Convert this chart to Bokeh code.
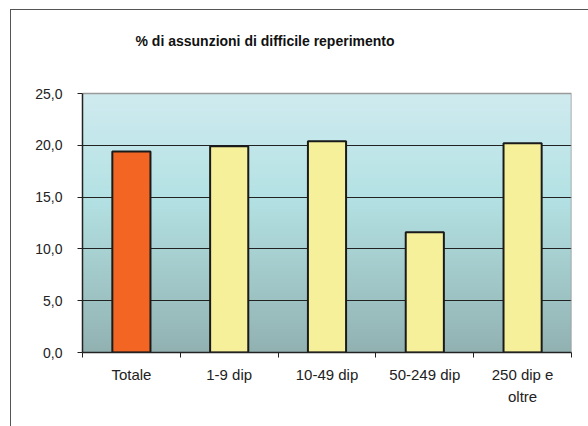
import numpy as np
from bokeh.plotting import figure
from bokeh.models import Range1d, FixedTicker, Label
from bokeh.embed import file_html
from bokeh.resources import INLINE

title = "% di assunzioni di difficile reperimento"
categories = ["Totale", "1-9 dip", "10-49 dip", "50-249 dip", "250 dip e\noltre"]
values = [19.4, 19.9, 20.4, 11.6, 20.2]
bar_colors = ["#f26522", "#f6f09b", "#f6f09b", "#f6f09b", "#f6f09b"]
y_ticks = [0, 5, 10, 15, 20, 25]
y_tick_labels = ["0,0", "5,0", "10,0", "15,0", "20,0", "25,0"]

n = len(categories)
y_max = y_ticks[-1]
centers = [i + 0.5 for i in range(n)]

# frame is extended upward so that the title can be drawn inside it
frame_h = 417 - 10 - 75
plot_h = 259
p = figure(width=578, height=417, output_backend="svg", toolbar_location=None,
           x_range=Range1d(0, n), y_range=Range1d(0, y_max * frame_h / plot_h),
           min_border_left=71, min_border_right=18, min_border_top=10, min_border_bottom=75)
p.margin = (9, 0, 0, 10)
p.styles = {"border-left": "1px solid #555555", "border-top": "1px solid #555555"}

# background gradient of the plot area
H = 256
t = np.linspace(0, 1, H)  # 0 bottom -> 1 top
stops_t = [0.0, 0.6, 1.0]
stops_c = np.array([[146, 178, 178], [180, 226, 228], [208, 235, 240]])
r = np.interp(t, stops_t, stops_c[:, 0])
g = np.interp(t, stops_t, stops_c[:, 1])
b = np.interp(t, stops_t, stops_c[:, 2])
img = np.empty((H, 1), dtype=np.uint32)
view = img.view(dtype=np.uint8).reshape((H, 1, 4))
view[:, 0, 0] = r.astype(np.uint8)
view[:, 0, 1] = g.astype(np.uint8)
view[:, 0, 2] = b.astype(np.uint8)
view[:, 0, 3] = 255
p.image_rgba(image=[img], x=0, y=0, dw=n, dh=y_max, level="image")

# plot area border (top and right)
p.line(x=[0, n, n], y=[y_max, y_max, 0], line_color="#9a9a9a", line_width=1.5)

p.vbar(x=centers, top=values, width=0.39, bottom=0, fill_color=bar_colors,
       line_color="#1a1a1a", line_width=2)

p.add_layout(Label(text=title, x=53, y=312, x_units="screen", y_units="screen",
                   text_font="Liberation Sans", text_font_size="14px",
                   text_font_style="bold", text_color="#111111",
                   text_baseline="middle", text_align="left"))

p.outline_line_color = None
p.background_fill_color = None
p.border_fill_color = "white"

p.xgrid.visible = False
p.ygrid.ticker = FixedTicker(ticks=y_ticks[1:-1])
p.ygrid.grid_line_color = "#222222"
p.ygrid.grid_line_width = 1.2
p.ygrid.level = "image"

# y axis
p.yaxis.bounds = (0, y_max)
p.yaxis.ticker = FixedTicker(ticks=y_ticks)
p.yaxis.major_label_overrides = {k: v for k, v in zip(y_ticks, y_tick_labels)}
p.yaxis.major_tick_out = 5
p.yaxis.major_tick_in = 0
p.yaxis.minor_tick_line_color = None
p.yaxis.axis_line_color = "#222222"
p.yaxis.axis_line_width = 1.5
p.yaxis.major_tick_line_color = "#222222"
p.yaxis.major_label_text_font = "Liberation Sans"
p.yaxis.major_label_text_font_size = "14px"
p.yaxis.major_label_text_color = "#222222"
p.yaxis.major_label_standoff = 15

# x axis
p.xaxis.ticker = FixedTicker(ticks=centers, minor_ticks=list(range(n + 1)))
p.xaxis.major_label_overrides = {c: lab for c, lab in zip(centers, categories)}
p.xaxis.major_tick_out = 0
p.xaxis.major_tick_in = 0
p.xaxis.minor_tick_out = 5
p.xaxis.minor_tick_in = 0
p.xaxis.minor_tick_line_color = "#222222"
p.xaxis.axis_line_color = "#222222"
p.xaxis.axis_line_width = 1.5
p.xaxis.major_label_text_font = "Liberation Sans"
p.xaxis.major_label_text_font_size = "15px"
p.xaxis.major_label_text_color = "#222222"
p.xaxis.major_label_standoff = 8
p.xaxis.major_label_text_line_height = 1.3

open("out.html", "w").write(file_html(p, INLINE))
